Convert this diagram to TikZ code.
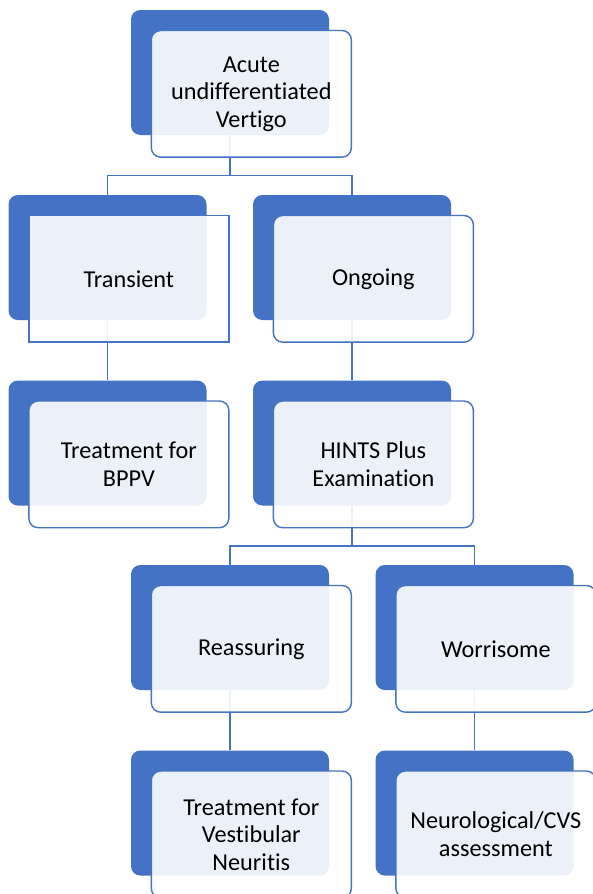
\documentclass[tikz,border=0pt]{standalone}
\usepackage{fontspec}
\setmainfont{Carlito}[Ligatures=NoCommon]
\usetikzlibrary{positioning}
\definecolor{accent}{HTML}{4472C4}

\begin{document}
\begin{tikzpicture}[
    x=0.75pt,
    y=-0.75pt,
    node distance=45pt and 34.5pt,
    backing/.style={
        fill=accent,
        rounded corners=7pt,
        minimum width=148.5pt,
        minimum height=93.75pt,
        inner sep=0pt
    },
    card/.style={
        draw=accent,
        line width=1.05pt,
        fill=white,
        fill opacity=0.9,
        text opacity=1,
        rounded corners=7pt,
        minimum width=150pt,
        minimum height=95pt,
        align=center,
        font=\fontsize{18.2}{20.6}\selectfont,
        xshift=16pt,
        yshift=-16pt
    },
    cardsharp/.style={
        card,
        sharp corners
    },
    link/.style={
        accent,
        line width=1.05pt
    }
]

\clip (0,0) rectangle (593,894);

% ============================================================
% BLOCOS DE FUNDO
% ============================================================

\node[backing] (acuteB) at (230,72.5) {};
\node[backing] (transientB) at (107.5,257.5) {};
\node[backing, right=of transientB] (ongoingB) {};
\node[backing, below=of transientB] (bppvB) {};
\node[backing, below=of ongoingB] (hintsB) {};
\node[backing] (reassuringB) at (230,627.5) {};
\node[backing, right=of reassuringB] (worrisomeB) {};
\node[backing, below=of reassuringB] (vestibularB) {};
\node[backing, below=of worrisomeB] (neuroB) {};

% ============================================================
% LIGACOES
% ============================================================

\draw[link] (acuteB.south) -- ++(0,40) -| (transientB.north);
\draw[link] (acuteB.south) -- ++(0,40) -| (ongoingB.north);
\draw[link] (transientB) -- (bppvB);
\draw[link] (ongoingB) -- (hintsB);
\draw[link] (hintsB.south) -- ++(0,40) -| (reassuringB.north);
\draw[link] (hintsB.south) -- ++(0,40) -| (worrisomeB.north);
\draw[link] (reassuringB) -- (vestibularB);
\draw[link] (worrisomeB) -- (neuroB);

% ============================================================
% CARTOES
% ============================================================

\node[card] (acute) at (acuteB) {Acute\\undifferentiated\\Vertigo};
\node[cardsharp] (transient) at (transientB) {Transient};
\node[card] (ongoing) at (ongoingB) {Ongoing};
\node[card] (bppv) at (bppvB) {Treatment for\\BPPV};
\node[card] (hints) at (hintsB) {HINTS Plus\\Examination};
\node[card] (reassuring) at (reassuringB) {Reassuring};
\node[card] (worrisome) at (worrisomeB) {Worrisome};
\node[card] (vestibular) at (vestibularB) {Treatment for\\Vestibular\\Neuritis};
\node[card] (neuro) at (neuroB) {Neurological/CVS\\assessment};

\end{tikzpicture}
\end{document}
